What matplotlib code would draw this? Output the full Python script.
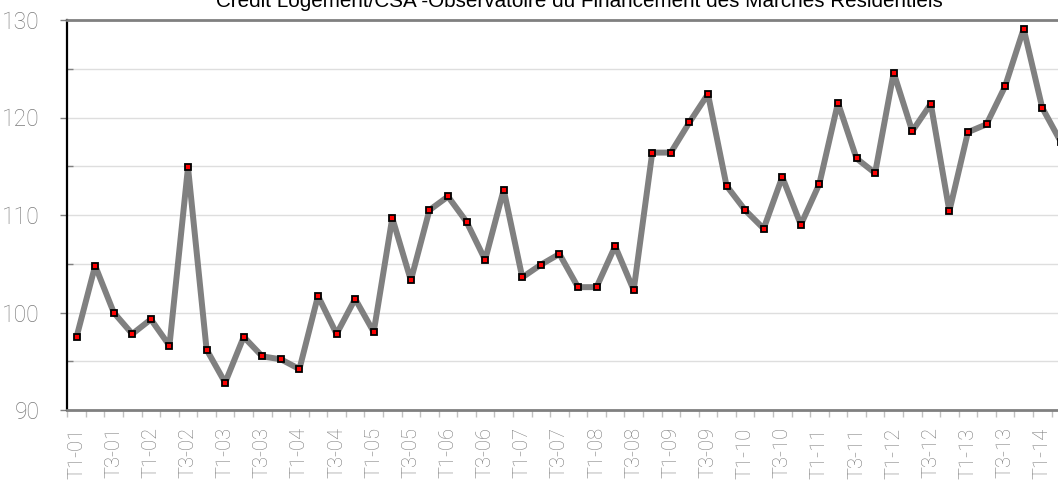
import matplotlib
matplotlib.use("Agg")
import matplotlib.pyplot as plt
from matplotlib.ticker import FixedLocator, MultipleLocator

# Quarterly index values, T1-01 .. T2-14
years = list(range(1, 15))
quarters = ["T1", "T2", "T3", "T4"]
values = [
    97.5, 104.8, 100.0, 97.8, 99.3, 96.6, 114.9, 96.2, 92.8, 97.5,
    95.5, 95.2, 94.2, 101.7, 97.8, 101.4, 98.0, 109.7, 103.3, 110.5,
    111.9, 109.3, 105.4, 112.6, 103.6, 104.9, 106.0, 102.6, 102.6, 106.8,
    102.3, 116.4, 116.4, 119.5, 122.4, 113.0, 110.5, 108.6, 113.9, 109.0,
    113.2, 121.5, 115.8, 114.3, 124.6, 118.6, 121.4, 110.4, 118.5, 119.3,
    123.2, 129.1, 121.0, 117.5,
]
categories = [f"{q}-{y:02d}" for y in years for q in quarters][:len(values)]
title = "Crédit Logement/CSA -Observatoire du Financement des Marchés Résidentiels"

W, H = 1058, 480
fig = plt.figure(figsize=(W / 100, H / 100), dpi=100)

# axes runs past the right edge of the picture, like the cropped original
n_slots = 54
left_px, right_px = 67.3, 67.3 + n_slots * 18.57
ax = fig.add_axes([left_px / W, 70 / H, (right_px - left_px) / W, 390 / H])

x = list(range(len(values)))
ax.plot(x, values, color="#808080", linewidth=4.3, marker="s", markersize=5,
        markerfacecolor="red", markeredgecolor="black", markeredgewidth=1.3,
        solid_joinstyle="round", solid_capstyle="round", zorder=3)

ax.set_xlim(-0.5, n_slots - 0.5)
ax.set_ylim(90, 130)

# y axis
ax.yaxis.set_major_locator(MultipleLocator(10))
ax.yaxis.set_minor_locator(MultipleLocator(5))
ax.grid(which="both", axis="y", color="#dedede", linewidth=1.0, zorder=0)
ax.tick_params(axis="y", which="major", direction="out", length=5, width=1,
               color="#808080", labelcolor="#7a7a7a", labelsize=16.5, pad=15)
ax.tick_params(axis="y", which="minor", direction="in", length=4, width=1,
               color="#808080")

# x axis: boundaries ticked, every other quarter labelled
ax.xaxis.set_minor_locator(FixedLocator([i - 0.5 for i in range(n_slots + 1)]))
ax.set_xticks(x[::2])
ax.set_xticklabels(categories[::2], rotation=90)
ax.tick_params(axis="x", which="major", length=0, labelcolor="#7a7a7a",
               labelsize=14.5, pad=12.5)
ax.tick_params(axis="x", which="minor", direction="out", length=5, width=1,
               color="#c0c0c0")

for lab in ax.get_xticklabels() + ax.get_yticklabels():
    lab.set_family("Roboto")
    lab.set_fontweight("light")
for lab in ax.get_xticklabels():
    lab.set_verticalalignment("top")

ax.spines["left"].set_color("black")
ax.spines["left"].set_linewidth(1.6)
ax.spines["top"].set_color("#808080")
ax.spines["top"].set_linewidth(2)
ax.spines["bottom"].set_color("#808080")
ax.spines["bottom"].set_linewidth(2)
ax.spines["right"].set_visible(False)

fig.text(579 / W, 1 - 7 / H, title, ha="center", va="baseline",
         fontsize=14.9, color="black", family="Liberation Sans")

fig.savefig("out.png", dpi=100)
